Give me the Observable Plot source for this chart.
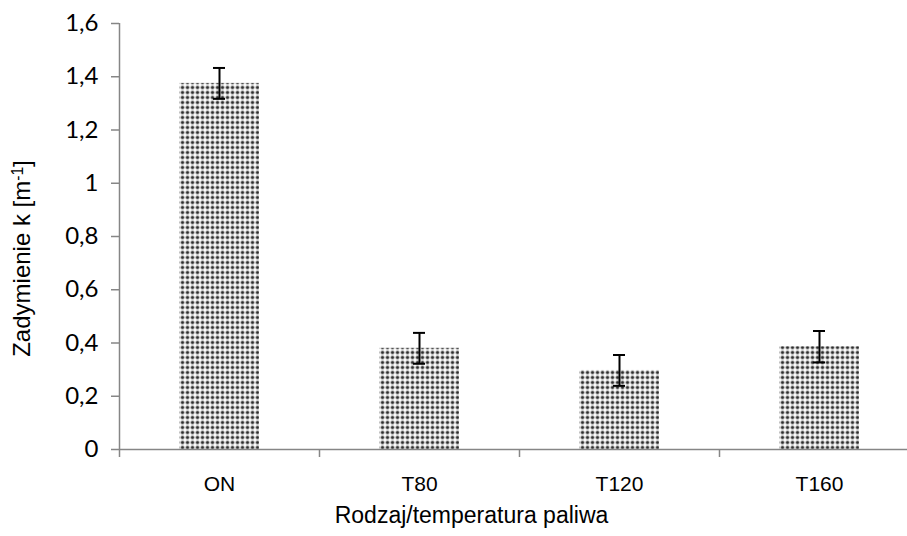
<!DOCTYPE html>
<html>
<head>
<meta charset="utf-8">
<script src="https://cdn.jsdelivr.net/npm/d3@7"></script>
<script src="https://cdn.jsdelivr.net/npm/@observablehq/plot@0.6"></script>
<style>
  html, body { margin: 0; padding: 0; background: #fff; overflow: hidden; }
</style>
</head>
<body>
<div id="chart"></div>
<script>
// Data
const categories = ["ON", "T80", "T120", "T160"];
const values = [1.375, 0.38, 0.297, 0.386];
const errors = [0.058, 0.058, 0.058, 0.059];
const yTicks = [0, 0.2, 0.4, 0.6, 0.8, 1, 1.2, 1.4, 1.6];
const yTickLabels = ["0", "0,2", "0,4", "0,6", "0,8", "1", "1,2", "1,4", "1,6"];
const xTitle = "Rodzaj/temperatura paliwa";
const yTitle = "Zadymienie k [m-1]";

const data = categories.map((c, i) => ({cat: c, v: values[i], lo: values[i] - errors[i], hi: values[i] + errors[i]}));
const yLabelMap = new Map(yTicks.map((t, i) => [t, yTickLabels[i]]));

const axisGray = "#868686";
const W = 907, H = 536;

const chart = Plot.plot({
  width: W,
  height: H,
  marginLeft: 119,
  marginRight: 0,
  marginTop: 23,
  marginBottom: 87,
  style: {background: "#fff", overflow: "visible"},
  x: {domain: categories, range: [119, 919], padding: 0, axis: null},
  y: {domain: [0, 1.6], axis: null},
  marks: [
    Plot.barY(data, {x: "cat", y: "v", fill: "url(#dots)", insetLeft: 60, insetRight: 60}),
    Plot.ruleX(data, {x: "cat", y1: "lo", y2: "hi", stroke: "#000", strokeWidth: 2}),
    Plot.tickY(data, {x: "cat", y: "hi", stroke: "#000", strokeWidth: 2, insetLeft: 94, insetRight: 94}),
    Plot.tickY(data, {x: "cat", y: "lo", stroke: "#000", strokeWidth: 2, insetLeft: 94, insetRight: 94}),
    // axes
    Plot.ruleY([0], {stroke: axisGray, strokeWidth: 1.5}),
    Plot.ruleX([categories[0]], {dx: -100, stroke: axisGray, strokeWidth: 1.5}),
    Plot.axisY(yTicks, {tickSize: 8, tickPadding: 13, stroke: axisGray, strokeWidth: 1.5,
      tickFormat: d => yLabelMap.get(d), fontSize: 24, fontFamily: "Lato", fill: "#000", label: null}),
    Plot.axisX({tickSize: 8, dx: -100, stroke: axisGray, strokeWidth: 1.5, tickFormat: () => "", label: null}),
    Plot.axisX({tickSize: 0, tickPadding: 27, fontSize: 21, fontFamily: "Liberation Sans, Arial", fill: "#000", label: null}),
    Plot.text([xTitle], {frameAnchor: "bottom", dy: 73, dx: -42, fontSize: 23, fontFamily: "Liberation Sans, Arial", fill: "#000"}),
    Plot.text([yTitle], {frameAnchor: "left", textAnchor: "middle", rotate: -90, dx: -97, dy: 22, fontSize: 24, fontFamily: "Liberation Sans, Arial", fill: "#000", className: "ytitle"})
  ]
});

// pattern definition for the dotted bar fill
const svg = d3.select(chart);
const defs = svg.insert("defs", ":first-child");
const pat = defs.append("pattern").attr("id", "dots").attr("patternUnits", "userSpaceOnUse")
  .attr("width", 5).attr("height", 5);
pat.append("rect").attr("width", 5).attr("height", 5).attr("fill", "#fff");
pat.append("circle").attr("cx", 2.5).attr("cy", 2.5).attr("r", 2.2).attr("fill", "#a8a8a8");
pat.append("circle").attr("cx", 2.5).attr("cy", 2.5).attr("r", 1.3).attr("fill", "#2e2e2e");

// superscript on y title
svg.selectAll(".ytitle text").each(function() {
  const t = d3.select(this);
  const s = t.text();
  const m = s.match(/^(.*\[m)(-1)(\])$/);
  if (m) {
    t.text(null);
    t.append("tspan").text(m[1]);
    t.append("tspan").attr("dy", "-0.45em").attr("font-size", "0.65em").text(m[2]);
    t.append("tspan").attr("dy", "0.3em").text(m[3]);
  }
});

document.getElementById("chart").appendChild(chart);
</script>
</body>
</html>
